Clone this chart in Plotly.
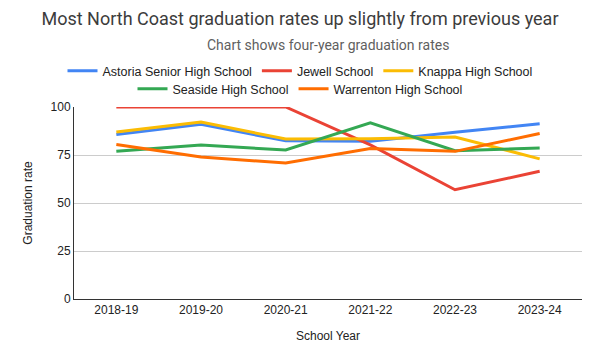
import plotly.graph_objects as go

years = ["2018-19", "2019-20", "2020-21", "2021-22", "2022-23", "2023-24"]
astoria = [85.7, 91.0, 82.4, 82.1, 86.8, 91.3]
jewell = [100, 100, 100, 80.3, 56.9, 66.5]
knappa = [87.0, 92.2, 83.3, 83.5, 84.4, 73.0]
seaside = [76.9, 80.2, 77.6, 91.7, 77.2, 78.6]
warrenton = [80.5, 74.0, 70.8, 78.4, 76.9, 86.2]

series = [
    ("Astoria Senior High School", astoria, "#4285F4", "legend"),
    ("Jewell School", jewell, "#EA4335", "legend"),
    ("Knappa High School", knappa, "#FBBC04", "legend"),
    ("Seaside High School", seaside, "#34A853", "legend2"),
    ("Warrenton High School", warrenton, "#FF6D01", "legend2"),
]

fig = go.Figure()
for name, vals, color, lg in series:
    fig.add_trace(go.Scatter(x=years, y=vals, name=name, mode="lines", legend=lg,
                             line=dict(color=color, width=3)))

legend_common = dict(orientation="h", xref="container", yref="container",
                     x=0.5, xanchor="center", yanchor="middle",
                     font=dict(size=12.5, color="#222222"), itemwidth=30,
                     bgcolor="rgba(0,0,0,0)")

fig.update_layout(
    width=600, height=352,
    margin=dict(l=74, r=18, t=107, b=53, autoexpand=False),
    paper_bgcolor="white", plot_bgcolor="white",
    font=dict(family="Liberation Sans, Arial, sans-serif", size=12, color="#222222"),
    title=dict(text="Most North Coast graduation rates up slightly from previous year",
               x=0.5, xanchor="center", y=1 - 19 / 352, yanchor="middle",
               font=dict(family="Roboto, sans-serif", size=18, color="#3c3c3c")),
    annotations=[dict(text="Chart shows four-year graduation rates", xref="paper", yref="paper",
                      x=0.5, y=1.0, yshift=62, xanchor="center", yanchor="middle", showarrow=False,
                      font=dict(family="Roboto, sans-serif", size=14, color="#5f5f5f"))],
    legend=dict(legend_common, y=1 - 71 / 352),
    legend2=dict(legend_common, y=1 - 89 / 352),
    showlegend=True,
)
fig.update_xaxes(title=dict(text="School Year", font=dict(size=12)), showgrid=False,
                 showline=True, linecolor="#333333", linewidth=1, ticks="",
                 range=[-0.5, 5.5], automargin=False)
fig.update_yaxes(title=dict(text="Graduation rate", font=dict(size=12)), range=[0, 100],
                 tickvals=[0, 25, 50, 75, 100], gridcolor="#cccccc", showline=True,
                 linecolor="#333333", linewidth=1, zeroline=False, automargin=False)

fig.write_html("out.html")
